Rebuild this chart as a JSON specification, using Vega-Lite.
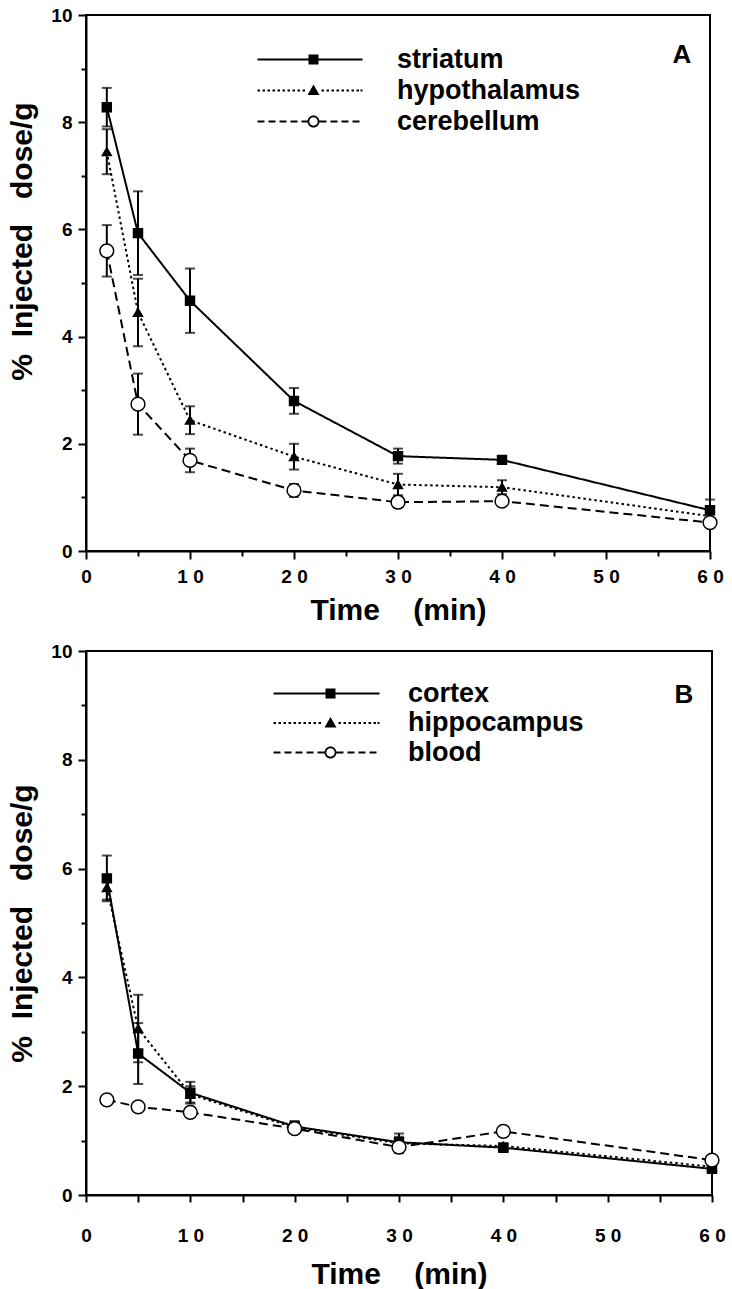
{
  "$schema": "https://vega.github.io/schema/vega-lite/v6.json",
  "padding": {"left": 6, "top": 5, "right": 0, "bottom": 0},
  "background": "white",
  "datasets": {
    "A": [
      {"tissue": "striatum", "t": 2, "v": 8.28, "e": 0.36},
      {"tissue": "striatum", "t": 5, "v": 5.93, "e": 0.78},
      {"tissue": "striatum", "t": 10, "v": 4.67, "e": 0.6},
      {"tissue": "striatum", "t": 20, "v": 2.8, "e": 0.24},
      {"tissue": "striatum", "t": 30, "v": 1.77, "e": 0.14},
      {"tissue": "striatum", "t": 40, "v": 1.7, "e": 0.05},
      {"tissue": "striatum", "t": 60, "v": 0.76, "e": 0.2},
      {"tissue": "hypothalamus", "t": 2, "v": 7.45, "e": 0.42},
      {"tissue": "hypothalamus", "t": 5, "v": 4.45, "e": 0.63},
      {"tissue": "hypothalamus", "t": 10, "v": 2.44, "e": 0.26},
      {"tissue": "hypothalamus", "t": 20, "v": 1.76, "e": 0.24},
      {"tissue": "hypothalamus", "t": 30, "v": 1.24, "e": 0.2},
      {"tissue": "hypothalamus", "t": 40, "v": 1.19, "e": 0.13},
      {"tissue": "hypothalamus", "t": 60, "v": 0.65, "e": 0.1},
      {"tissue": "cerebellum", "t": 2, "v": 5.6, "e": 0.48},
      {"tissue": "cerebellum", "t": 5, "v": 2.74, "e": 0.57},
      {"tissue": "cerebellum", "t": 10, "v": 1.69, "e": 0.22},
      {"tissue": "cerebellum", "t": 20, "v": 1.13, "e": 0.12},
      {"tissue": "cerebellum", "t": 30, "v": 0.91, "e": 0.08},
      {"tissue": "cerebellum", "t": 40, "v": 0.93, "e": 0.07},
      {"tissue": "cerebellum", "t": 60, "v": 0.53, "e": 0.05}
    ],
    "B": [
      {"tissue": "cortex", "t": 2, "v": 5.82, "e": 0.42},
      {"tissue": "cortex", "t": 5, "v": 2.6, "e": 0.56},
      {"tissue": "cortex", "t": 10, "v": 1.88, "e": 0.2},
      {"tissue": "cortex", "t": 20, "v": 1.26, "e": 0.1},
      {"tissue": "cortex", "t": 30, "v": 0.97, "e": 0.1},
      {"tissue": "cortex", "t": 40, "v": 0.87, "e": 0.06},
      {"tissue": "cortex", "t": 60, "v": 0.48, "e": 0.05},
      {"tissue": "hippocampus", "t": 2, "v": 5.65, "e": 0.22},
      {"tissue": "hippocampus", "t": 5, "v": 3.06, "e": 0.62},
      {"tissue": "hippocampus", "t": 10, "v": 1.85, "e": 0.15},
      {"tissue": "hippocampus", "t": 20, "v": 1.24, "e": 0.08},
      {"tissue": "hippocampus", "t": 30, "v": 0.95, "e": 0.18},
      {"tissue": "hippocampus", "t": 40, "v": 0.9, "e": 0.05},
      {"tissue": "hippocampus", "t": 60, "v": 0.52, "e": 0.05},
      {"tissue": "blood", "t": 2, "v": 1.75, "e": 0.04},
      {"tissue": "blood", "t": 5, "v": 1.62, "e": 0.04},
      {"tissue": "blood", "t": 10, "v": 1.52, "e": 0.05},
      {"tissue": "blood", "t": 20, "v": 1.22, "e": 0.05},
      {"tissue": "blood", "t": 30, "v": 0.88, "e": 0.05},
      {"tissue": "blood", "t": 40, "v": 1.17, "e": 0.05},
      {"tissue": "blood", "t": 60, "v": 0.64, "e": 0.04}
    ]
  },
  "spacing": 15,
  "resolve": {
    "scale": {"shape": "independent"},
    "legend": {"shape": "independent"}
  },
  "vconcat": [
    {
      "width": 624,
      "height": 536,
      "title": {"text": "A", "anchor": "end", "dx": -32, "offset": -62, "fontSize": 26, "font": "Liberation Sans", "fontWeight": "bold", "color": "black"},
      "data": {"name": "A"},
      "encoding": {
        "x": {"field": "t", "type": "quantitative", "scale": {"domain": [0, 60], "nice": false},
              "axis": {"values": [0,5,10,15,20,25,30,35,40,45,50,55,60], "labelExpr": "datum.value % 10 != 0 ? '' : (datum.value == 0 ? '0' : floor(datum.value/10) + '\u00a00')", "title": "Time\u00a0\u00a0\u00a0 (min)",
                       "labelPadding": 8, "titlePadding": 9,
                       "tickSize": {"condition": {"test": "datum.value % 10 != 0", "value": 5}, "value": 8}}},
        "y": {"field": "v", "type": "quantitative", "scale": {"domain": [0, 10], "nice": false},
              "axis": {"values": [0,1,2,3,4,5,6,7,8,9,10], "labelExpr": "datum.value % 2 == 1 ? '' : datum.label", "title": "%\u00a0 Injected\u00a0\u00a0 dose/g", "titleY": 226,
                       "tickSize": {"condition": {"test": "datum.value % 2 == 1", "value": 5}, "value": 8}}}
      },
      "layer": [
        {
          "mark": {"type": "errorbar", "ticks": true, "size": 10, "thickness": 2, "color": "black"},
          "encoding": {"yError": {"field": "e"}}
        },
        {
          "mark": {"type": "line", "strokeWidth": 2, "color": "black"},
          "encoding": {
            "detail": {"field": "tissue", "type": "nominal"},
            "strokeDash": {"condition": [{"test": "datum.tissue == 'hypothalamus'", "value": [2.5, 3]}, {"test": "datum.tissue == 'cerebellum'", "value": [9, 5]}], "value": [1, 0]}
          }
        },
        {
          "mark": {"type": "point", "stroke": "black", "strokeWidth": 1.5, "opacity": 1},
          "encoding": {
            "shape": {"condition": [{"test": "datum.tissue == 'hypothalamus'", "value": "triangle-up"}, {"test": "datum.tissue == 'cerebellum'", "value": "circle"}], "value": "square"},
            "fill": {"condition": {"test": "datum.tissue == 'cerebellum'", "value": "white"}, "value": "black"},
            "size": {"condition": {"test": "datum.tissue == 'cerebellum'", "value": 190}, "value": 80}
          }
        },
        {
          "transform": [{"filter": "false"}],
          "mark": {"type": "point", "filled": true, "color": "black", "opacity": 1},
          "encoding": {
            "shape": {"field": "tissue", "type": "nominal",
              "scale": {"domain": ["striatum", "hypothalamus", "cerebellum"],
                "range": [
                  "M-1,-0.1H9.5V0.1H-1Z M4.1,-0.5H5.1V0.5H4.1Z",
                  "M-1,-0.1h0.25v0.2h-0.25Z M-0.5,-0.1h0.25v0.2h-0.25Z M0,-0.1h0.25v0.2h-0.25Z M0.5,-0.1h0.25v0.2h-0.25Z M1,-0.1h0.25v0.2h-0.25Z M1.5,-0.1h0.25v0.2h-0.25Z M2,-0.1h0.25v0.2h-0.25Z M2.5,-0.1h0.25v0.2h-0.25Z M3,-0.1h0.25v0.2h-0.25Z M3.5,-0.1h0.25v0.2h-0.25Z M4.6,-0.6L5.2,0.45H4Z M5.4,-0.1h0.25v0.2h-0.25Z M5.9,-0.1h0.25v0.2h-0.25Z M6.4,-0.1h0.25v0.2h-0.25Z M6.9,-0.1h0.25v0.2h-0.25Z M7.4,-0.1h0.25v0.2h-0.25Z M7.9,-0.1h0.25v0.2h-0.25Z M8.4,-0.1h0.25v0.2h-0.25Z M8.9,-0.1h0.25v0.2h-0.25Z M9.3,-0.1h0.2v0.2h-0.2Z",
                  "M-1,-0.1H-0.3V0.1H-1Z M0.1,-0.1H0.8V0.1H0.1Z M1.2,-0.1H1.9V0.1H1.2Z M2.3,-0.1H3V0.1H2.3Z M3.4,-0.1H4V0.1H3.4Z M5.2,-0.1H5.9V0.1H5.2Z M6.3,-0.1H7V0.1H6.3Z M7.4,-0.1H8.1V0.1H7.4Z M8.5,-0.1H9.2V0.1H8.5Z M5.2,0A0.6,0.6 0 1 1 4,0A0.6,0.6 0 1 1 5.2,0Z M5.02,0A0.42,0.42 0 1 0 4.18,0A0.42,0.42 0 1 0 5.02,0Z"
                ]},
              "legend": {"title": null, "orient": "none", "legendX": 168, "legendY": 31, "padding": 0, "symbolSize": 400, "symbolStrokeWidth": 0, "symbolOpacity": 1, "symbolFillColor": "black", "labelFont": "Liberation Sans", "labelFontSize": 27, "labelFontWeight": "bold", "labelColor": "black", "labelOffset": 116, "labelLimit": 400, "rowPadding": 3}}
          }
        }
      ]
    },
    {
      "width": 626,
      "height": 544,
      "title": {"text": "B", "anchor": "end", "dx": -32, "offset": -66, "fontSize": 26, "font": "Liberation Sans", "fontWeight": "bold", "color": "black"},
      "data": {"name": "B"},
      "encoding": {
        "x": {"field": "t", "type": "quantitative", "scale": {"domain": [0, 60], "nice": false},
              "axis": {"values": [0,5,10,15,20,25,30,35,40,45,50,55,60], "labelExpr": "datum.value % 10 != 0 ? '' : (datum.value == 0 ? '0' : floor(datum.value/10) + '\u00a00')", "title": "Time\u00a0\u00a0\u00a0 (min)",
                       "labelPadding": 24, "titlePadding": 14, "tickSize": 7}},
        "y": {"field": "v", "type": "quantitative", "scale": {"domain": [0, 10], "nice": false},
              "axis": {"values": [0,1,2,3,4,5,6,7,8,9,10], "labelExpr": "datum.value % 2 == 1 ? '' : datum.label", "title": "%\u00a0 Injected\u00a0\u00a0 dose/g",
                       "tickSize": {"condition": {"test": "datum.value % 2 == 1", "value": 5}, "value": 8}}}
      },
      "layer": [
        {
          "mark": {"type": "errorbar", "ticks": true, "size": 10, "thickness": 2, "color": "black"},
          "encoding": {"yError": {"field": "e"}}
        },
        {
          "mark": {"type": "line", "strokeWidth": 2, "color": "black"},
          "encoding": {
            "detail": {"field": "tissue", "type": "nominal"},
            "strokeDash": {"condition": [{"test": "datum.tissue == 'hippocampus'", "value": [2.5, 3]}, {"test": "datum.tissue == 'blood'", "value": [9, 5]}], "value": [1, 0]}
          }
        },
        {
          "mark": {"type": "point", "stroke": "black", "strokeWidth": 1.5, "opacity": 1},
          "encoding": {
            "shape": {"condition": [{"test": "datum.tissue == 'hippocampus'", "value": "triangle-up"}, {"test": "datum.tissue == 'blood'", "value": "circle"}], "value": "square"},
            "fill": {"condition": {"test": "datum.tissue == 'blood'", "value": "white"}, "value": "black"},
            "size": {"condition": {"test": "datum.tissue == 'blood'", "value": 190}, "value": 80}
          }
        },
        {
          "transform": [{"filter": "false"}],
          "mark": {"type": "point", "filled": true, "color": "black", "opacity": 1},
          "encoding": {
            "shape": {"field": "tissue", "type": "nominal",
              "scale": {"domain": ["cortex", "hippocampus", "blood"],
                "range": [
                  "M-1,-0.1H9.6V0.1H-1Z M4.2,-0.5H5.2V0.5H4.2Z",
                  "M-1,-0.1h0.25v0.2h-0.25Z M-0.5,-0.1h0.25v0.2h-0.25Z M0,-0.1h0.25v0.2h-0.25Z M0.5,-0.1h0.25v0.2h-0.25Z M1,-0.1h0.25v0.2h-0.25Z M1.5,-0.1h0.25v0.2h-0.25Z M2,-0.1h0.25v0.2h-0.25Z M2.5,-0.1h0.25v0.2h-0.25Z M3,-0.1h0.25v0.2h-0.25Z M3.5,-0.1h0.25v0.2h-0.25Z M4.7,-0.6L5.3,0.45H4.1Z M5.5,-0.1h0.25v0.2h-0.25Z M6,-0.1h0.25v0.2h-0.25Z M6.5,-0.1h0.25v0.2h-0.25Z M7,-0.1h0.25v0.2h-0.25Z M7.5,-0.1h0.25v0.2h-0.25Z M8,-0.1h0.25v0.2h-0.25Z M8.5,-0.1h0.25v0.2h-0.25Z M9,-0.1h0.25v0.2h-0.25Z M9.4,-0.1h0.2v0.2h-0.2Z",
                  "M-1,-0.1H-0.3V0.1H-1Z M0.1,-0.1H0.8V0.1H0.1Z M1.2,-0.1H1.9V0.1H1.2Z M2.3,-0.1H3V0.1H2.3Z M3.4,-0.1H4.1V0.1H3.4Z M5.3,-0.1H6V0.1H5.3Z M6.4,-0.1H7.1V0.1H6.4Z M7.5,-0.1H8.2V0.1H7.5Z M8.6,-0.1H9.3V0.1H8.6Z M5.3,0A0.6,0.6 0 1 1 4.1,0A0.6,0.6 0 1 1 5.3,0Z M5.12,0A0.42,0.42 0 1 0 4.28,0A0.42,0.42 0 1 0 5.12,0Z"
                ]},
              "legend": {"title": null, "orient": "none", "legendX": 184, "legendY": 29, "padding": 0, "symbolSize": 400, "symbolStrokeWidth": 0, "symbolOpacity": 1, "symbolFillColor": "black", "labelFont": "Liberation Sans", "labelFontSize": 27, "labelFontWeight": "bold", "labelColor": "black", "labelOffset": 111, "labelLimit": 400, "rowPadding": 1.5}}
          }
        }
      ]
    }
  ],
  "config": {
    "view": {"stroke": "black", "strokeWidth": 2},
    "axis": {
      "grid": false,
      "domainColor": "black", "domainWidth": 2,
      "tickColor": "black", "tickWidth": 2,
      "labelFont": "Liberation Sans", "labelFontWeight": "bold", "labelFontSize": 19, "labelColor": "black",
      "titleFont": "Liberation Sans", "titleFontWeight": "bold", "titleFontSize": 30, "titleColor": "black"
    },
    "axisX": {"labelFlush": false},
    "axisY": {"labelPadding": 6, "titlePadding": 13}
  }
}
